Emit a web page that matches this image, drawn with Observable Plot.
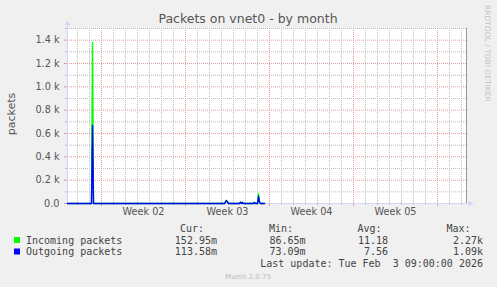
<!DOCTYPE html>
<html><head><meta charset="utf-8">
<script src="https://cdn.jsdelivr.net/npm/d3@7"></script>
<script src="https://cdn.jsdelivr.net/npm/@observablehq/plot@0.6"></script>
<style>
html,body{margin:0;padding:0;background:#f0f0f0;}
#chart{width:497px;height:287px;overflow:hidden;}
</style></head><body><div id="chart"></div>
<script>
// ---- data ----
const times = [
  "2026-01-02T04:00Z","2026-01-04T02:00Z","2026-01-04T04:00Z","2026-01-04T06:00Z","2026-01-04T08:00Z",
  "2026-01-09T02:00Z","2026-01-15T06:00Z","2026-01-15T10:00Z","2026-01-15T14:00Z",
  "2026-01-16T12:00Z","2026-01-16T14:00Z","2026-01-16T16:00Z","2026-01-16T18:00Z","2026-01-16T20:00Z",
  "2026-01-17T16:00Z","2026-01-17T18:00Z","2026-01-17T20:00Z",
  "2026-01-18T00:00Z","2026-01-18T02:00Z","2026-01-18T04:00Z","2026-01-18T06:00Z","2026-01-18T14:00Z"
];
const incoming = [0.15,0.2,0.3,1380,0.3, 0.2,0.3,28,0.3, 0.3,12,0.3,10,0.3, 0.3,10,0.3, 0.5,85,15,0.3,0.15];
const outgoing = [0.11,0.15,0.2,670,0.2, 0.15,0.2,24,0.2, 0.2,10,0.2,9,0.2, 0.2,8,0.2, 0.4,62,10,0.2,0.11];

const xDomain = ["2026-01-02T04:00Z", "2026-02-04T10:00Z"];
const yDomain = [0, 1500];
const yMajorTicks = [0, 200, 400, 600, 800, 1000, 1200, 1400];
const yTickLabels = ["0.0", "0.2 k", "0.4 k", "0.6 k", "0.8 k", "1.0 k", "1.2 k", "1.4 k"];
const yMinorTicks = [100, 300, 500, 700, 900, 1100, 1300, 1500];
const weekLabelDates = ["2026-01-08T12:00Z", "2026-01-15T12:00Z", "2026-01-22T12:00Z", "2026-01-29T12:00Z"];
const weekLabels = ["Week 02", "Week 03", "Week 04", "Week 05"];

const seriesNames = ["Incoming packets", "Outgoing packets"];
const seriesColors = ["#00ff00", "#0000ff"];
const statHeaders = ["Cur:", "Min:", "Avg:", "Max:"];
const incomingStats = ["152.95m", "86.65m", "11.18", "2.27k"];
const outgoingStats = ["113.58m", "73.09m", "7.56", "1.09k"];
const titleText = "Packets on vnet0 - by month";
const yLabelText = "packets";
const lastUpdate = "Last update: Tue Feb  3 09:00:00 2026";
const watermark = "RRDTOOL / TOBI OETIKER";
const versionText = "Munin 2.0.75";

// ---- build ----
const data = times.map((t, i) => ({date: new Date(t), incoming: incoming[i], outgoing: outgoing[i]}));
const xd = xDomain.map(d => new Date(d));
const days = d3.utcDay.range(xd[0], xd[1]);
const weekStarts = d3.utcMonday.range(xd[0], xd[1]);
const minorDays = days.filter(d => d.getUTCDay() !== 1);
const yLabelMap = new Map(yMajorTicks.map((v, i) => [v, yTickLabels[i]]));
const wkDates = weekLabelDates.map(d => new Date(d));
const wkMap = new Map(wkDates.map((d, i) => [+d, weekLabels[i]]));

const GRID = "#bdbdbd", MGRID = "#e09a9a", AXIS = "#CFD6F8";
const dash = "1,1";

const plot = Plot.plot({
  width: 497, height: 287,
  marginLeft: 67, marginRight: 31, marginTop: 28, marginBottom: 84,
  style: {background: "#f0f0f0", fontFamily: "'DejaVu Sans', sans-serif", fontSize: "9.7px", color: "#555", overflow: "visible"},
  x: {type: "utc", domain: xd, label: null},
  y: {domain: yDomain, label: null},
  marks: [
    Plot.frame({fill: "white", stroke: "none"}),
    Plot.gridX(minorDays, {stroke: GRID, strokeOpacity: 1, strokeDasharray: dash}),
    Plot.gridY(yMinorTicks, {stroke: GRID, strokeOpacity: 1, strokeDasharray: dash}),
    Plot.gridX(weekStarts, {stroke: MGRID, strokeOpacity: 1, strokeDasharray: dash}),
    Plot.gridY(yMajorTicks.filter(v => v > 0), {stroke: MGRID, strokeOpacity: 1, strokeDasharray: dash}),
    Plot.axisX(minorDays, {tickSize: 2, tickFormat: () => "", stroke: GRID, label: null}),
    Plot.axisX(weekStarts, {tickSize: 3, tickFormat: () => "", stroke: MGRID, label: null}),
    Plot.axisX(wkDates, {tickSize: 0, tickPadding: 5, tickFormat: d => wkMap.get(+d), fill: "#555", label: null}),
    Plot.axisY(yMinorTicks, {tickSize: 2, tickFormat: () => "", stroke: GRID, label: null}),
    Plot.axisY(yMajorTicks, {tickSize: 3, tickPadding: 5, tickFormat: d => yLabelMap.get(d), stroke: MGRID, fill: "#555", label: null}),
    Plot.ruleX([xd[1]], {stroke: "#999"}),
    Plot.ruleX([xd[0]], {stroke: AXIS}),
    Plot.ruleY([0], {stroke: AXIS}),
    Plot.line(data, {x: "date", y: "incoming", stroke: seriesColors[0], strokeWidth: 1.4}),
    Plot.line(data, {x: "date", y: "outgoing", stroke: seriesColors[1], strokeWidth: 1.4})
  ]
});

const svg = d3.select(plot);
const xs = plot.scale("x"), ys = plot.scale("y");
const x0 = xs.range[0] + 0.5, x1 = xs.range[1] + 0.5;
const y0 = ys.range[0] + 0.5, yTop = ys.range[1];

// axis extensions + arrows
svg.append("line").attr("x1", x0).attr("x2", x0).attr("y1", yTop + 0.5).attr("y2", yTop - 3).attr("stroke", AXIS);
svg.append("path").attr("d", `M${x0 - 3},${yTop - 3} L${x0 + 3},${yTop - 3} L${x0},${yTop - 7} Z`).attr("fill", AXIS);
svg.append("line").attr("x1", x1).attr("x2", x1 + 2).attr("y1", y0).attr("y2", y0).attr("stroke", AXIS);
svg.append("path").attr("d", `M${x1 + 2},${y0 - 3} L${x1 + 2},${y0 + 3} L${x1 + 7},${y0} Z`).attr("fill", AXIS);

// title
svg.append("text").attr("x", 248).attr("y", 23).attr("text-anchor", "middle")
  .style("font-family", "'DejaVu Sans', sans-serif").style("font-size", "12.5px").attr("fill", "#555").text(titleText);
// y label
svg.append("text").attr("transform", "translate(15,114) rotate(-90)").attr("text-anchor", "middle")
  .style("font-family", "'DejaVu Sans', sans-serif").style("font-size", "11px").attr("fill", "#555").text(yLabelText);
// watermark
svg.append("text").attr("transform", "translate(485,5) rotate(90)").attr("text-anchor", "start")
  .style("font-family", "'DejaVu Sans', sans-serif").style("font-size", "7.5px").attr("fill", "#c4c4c4").text(watermark);

// legend
const lg = svg.append("g").style("font-family", "'DejaVu Sans Mono', monospace").style("font-size", "10px")
  .style("white-space", "pre").attr("fill", "#444");
const colEnds = [217, 305.5, 388, 483];
const headEnds = [204, 293, 381.5, 470.5];
statHeaders.forEach((h, i) => lg.append("text").attr("x", headEnds[i]).attr("y", 232).attr("text-anchor", "end").text(h));
const rows = [incomingStats, outgoingStats];
const rowY = [243.5, 255];
rows.forEach((r, j) => {
  lg.append("rect").attr("x", 14).attr("y", rowY[j] - 6.5).attr("width", 6).attr("height", 6).attr("fill", seriesColors[j]);
  lg.append("text").attr("x", 26).attr("y", rowY[j]).attr("text-anchor", "start").text(seriesNames[j]);
  r.forEach((v, i) => lg.append("text").attr("x", colEnds[i]).attr("y", rowY[j]).attr("text-anchor", "end").text(v));
});
lg.append("text").attr("x", 483).attr("y", 267).attr("text-anchor", "end").text(lastUpdate);
svg.append("text").attr("x", 248).attr("y", 279).attr("text-anchor", "middle")
  .style("font-family", "'DejaVu Sans', sans-serif").style("font-size", "7px").attr("fill", "#bbb").text(versionText);

document.getElementById("chart").appendChild(plot);
</script>
</body></html>
